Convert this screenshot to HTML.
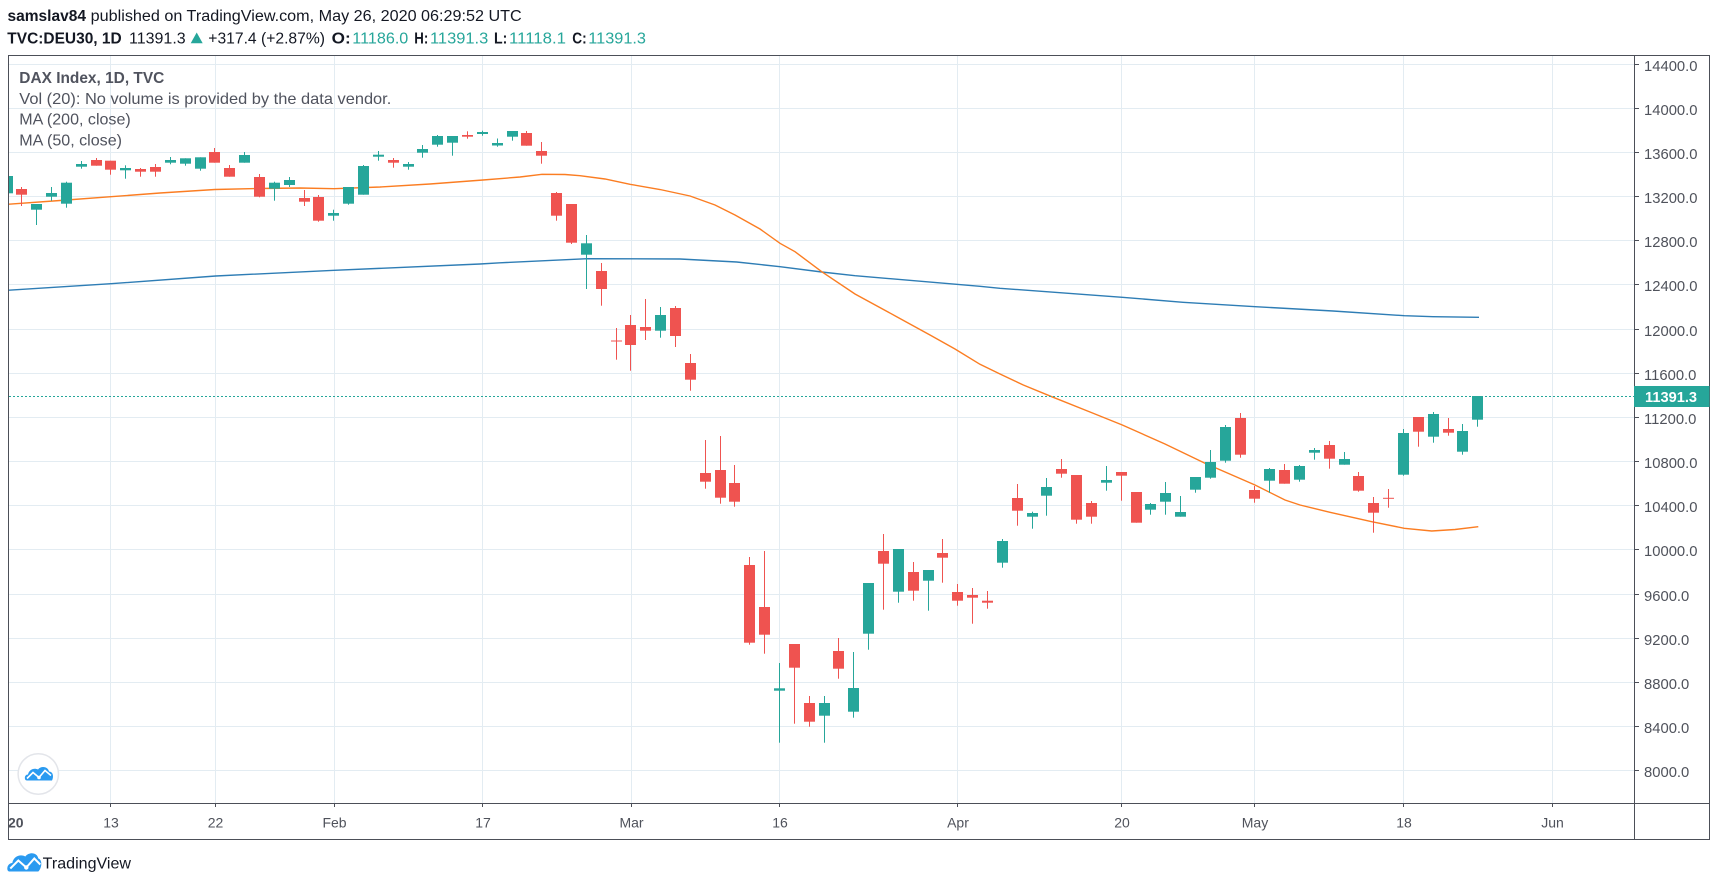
<!DOCTYPE html>
<html><head><meta charset="utf-8"><style>
html,body{margin:0;padding:0;background:#fff;}
svg{display:block;}
text{font-family:"Liberation Sans",Arial,sans-serif;}
</style></head><body>
<svg width="1718" height="886" viewBox="0 0 1718 886" xmlns="http://www.w3.org/2000/svg">
<defs>
<clipPath id="plot"><rect x="9" y="56" width="1625" height="747"/></clipPath>
<clipPath id="taxis"><rect x="9" y="804" width="1625" height="35"/></clipPath>
</defs>
<rect width="1718" height="886" fill="#fff"/>

<!-- header -->
<g font-size="15.5" fill="#131722">
<text x="7.5" y="21" font-weight="bold" textLength="78.5" lengthAdjust="spacingAndGlyphs">samslav84</text>
<text x="90.7" y="21" textLength="431" lengthAdjust="spacingAndGlyphs">published on TradingView.com, May 26, 2020 06:29:52 UTC</text>
<text x="7.3" y="43.5" font-weight="bold" textLength="114.4" lengthAdjust="spacingAndGlyphs">TVC:DEU30, 1D</text>
<text x="129" y="43.5" textLength="56.7" lengthAdjust="spacingAndGlyphs">11391.3</text>
<polygon points="190.7,43.3 202.7,43.3 196.7,32.5" fill="#26a69a"/>
<text x="208.3" y="43.5" textLength="116.7" lengthAdjust="spacingAndGlyphs">+317.4 (+2.87%)</text>
<text x="331.7" y="43.5" font-weight="bold" textLength="19" lengthAdjust="spacingAndGlyphs">O:</text>
<text x="352.3" y="43.5" fill="#26a69a" textLength="56" lengthAdjust="spacingAndGlyphs">11186.0</text>
<text x="414.3" y="43.5" font-weight="bold" textLength="14" lengthAdjust="spacingAndGlyphs">H:</text>
<text x="430" y="43.5" fill="#26a69a" textLength="58.3" lengthAdjust="spacingAndGlyphs">11391.3</text>
<text x="494" y="43.5" font-weight="bold" textLength="13.3" lengthAdjust="spacingAndGlyphs">L:</text>
<text x="509" y="43.5" fill="#26a69a" textLength="57" lengthAdjust="spacingAndGlyphs">11118.1</text>
<text x="572.3" y="43.5" font-weight="bold" textLength="14.4" lengthAdjust="spacingAndGlyphs">C:</text>
<text x="588.3" y="43.5" fill="#26a69a" textLength="57.7" lengthAdjust="spacingAndGlyphs">11391.3</text>
</g>

<!-- grid -->
<g stroke="#e3ecf2" stroke-width="1">
<line x1="9" x2="1634" y1="64.5" y2="64.5"/>
<line x1="9" x2="1634" y1="108.5" y2="108.5"/>
<line x1="9" x2="1634" y1="152.5" y2="152.5"/>
<line x1="9" x2="1634" y1="196.5" y2="196.5"/>
<line x1="9" x2="1634" y1="240.5" y2="240.5"/>
<line x1="9" x2="1634" y1="284.5" y2="284.5"/>
<line x1="9" x2="1634" y1="329.5" y2="329.5"/>
<line x1="9" x2="1634" y1="373.5" y2="373.5"/>
<line x1="9" x2="1634" y1="417.5" y2="417.5"/>
<line x1="9" x2="1634" y1="461.5" y2="461.5"/>
<line x1="9" x2="1634" y1="505.5" y2="505.5"/>
<line x1="9" x2="1634" y1="549.5" y2="549.5"/>
<line x1="9" x2="1634" y1="594.5" y2="594.5"/>
<line x1="9" x2="1634" y1="638.5" y2="638.5"/>
<line x1="9" x2="1634" y1="682.5" y2="682.5"/>
<line x1="9" x2="1634" y1="726.5" y2="726.5"/>
<line x1="9" x2="1634" y1="770.5" y2="770.5"/>
<line y1="56" y2="803" x1="110.5" x2="110.5"/>
<line y1="56" y2="803" x1="215.5" x2="215.5"/>
<line y1="56" y2="803" x1="334.5" x2="334.5"/>
<line y1="56" y2="803" x1="482.5" x2="482.5"/>
<line y1="56" y2="803" x1="631.5" x2="631.5"/>
<line y1="56" y2="803" x1="779.5" x2="779.5"/>
<line y1="56" y2="803" x1="957.5" x2="957.5"/>
<line y1="56" y2="803" x1="1121.5" x2="1121.5"/>
<line y1="56" y2="803" x1="1254.5" x2="1254.5"/>
<line y1="56" y2="803" x1="1403.5" x2="1403.5"/>
<line y1="56" y2="803" x1="1552.5" x2="1552.5"/>
</g>

<g clip-path="url(#plot)">
<!-- MA lines -->
<polyline fill="none" stroke="#2e7db5" stroke-width="1.4" points="8,290.3 111,283.7 215.7,276 334.3,270.3 480,264 500,262.8 587.3,258.7 680,259 736.7,262 780,266.7 821.7,272 855,275.7 980,286.3 1000,288.3 1122.3,297.3 1183,302.3 1255.3,306.7 1333,311 1404.3,315.7 1433,316.7 1479,317.3"/>
<polyline fill="none" stroke="#fb7d22" stroke-width="1.4" points="8,204.3 60,200.5 111,196.7 160,193 215,189.5 260,188.5 300,188 334,188.7 380,187 430,184 483,180 520,177 542,174.3 565,174.5 580,175.7 605,179 630,184.3 660,189.5 690,196 715,205 735,215 760,229 780,243.3 795,251.7 821.7,271.7 855,294 896.7,316.7 930,335 955,349 980,364.3 1000,374 1023.3,385 1051.7,396.7 1090,412 1122.3,425 1165,444 1205,463.3 1255,485 1285,500 1300,505 1330,512.3 1371.7,521.7 1404.3,528.3 1431.7,531 1455,529.5 1478.3,526.7"/>

<!-- last price line -->
<line x1="9" x2="1634" y1="396.5" y2="396.5" stroke="#26a69a" stroke-width="1" stroke-dasharray="2,2"/>

<!-- teal candles -->
<g fill="#26a69a">
<rect x="2" y="176" width="11" height="17.3"/>
<rect x="36" y="204" width="1" height="21"/><rect x="31" y="204" width="11" height="5.7"/>
<rect x="51" y="187" width="1" height="13.7"/><rect x="46" y="193" width="11" height="3.7"/>
<rect x="66" y="181.7" width="1" height="26"/><rect x="61" y="182.7" width="11" height="21"/>
<rect x="81" y="161" width="1" height="7.7"/><rect x="76" y="164" width="11" height="2.7"/>
<rect x="125" y="165.3" width="1" height="13.4"/><rect x="120" y="168" width="11" height="2.3"/>
<rect x="170" y="157" width="1" height="7.3"/><rect x="165" y="160" width="11" height="2.7"/>
<rect x="185" y="158.3" width="1" height="7.4"/><rect x="180" y="158.3" width="11" height="5.4"/>
<rect x="200" y="157.3" width="1" height="13.4"/><rect x="195" y="157.3" width="11" height="11.4"/>
<rect x="244" y="152" width="1" height="10.7"/><rect x="239" y="155" width="11" height="7.7"/>
<rect x="274" y="181.7" width="1" height="19"/><rect x="269" y="182.7" width="11" height="6"/>
<rect x="289" y="177" width="1" height="10"/><rect x="284" y="180" width="11" height="5"/>
<rect x="333" y="209.7" width="1" height="11"/><rect x="328" y="213" width="11" height="2.7"/>
<rect x="348" y="187" width="1" height="17.7"/><rect x="343" y="187" width="11" height="16.7"/>
<rect x="363" y="165" width="1" height="29.7"/><rect x="358" y="166" width="11" height="28.7"/>
<rect x="378" y="151" width="1" height="9.7"/><rect x="373" y="154.7" width="11" height="2"/>
<rect x="408" y="162" width="1" height="7.7"/><rect x="403" y="164" width="11" height="2.7"/>
<rect x="422" y="145" width="1" height="12.7"/><rect x="417" y="149" width="11" height="3.7"/>
<rect x="437" y="135" width="1" height="11.7"/><rect x="432" y="136" width="11" height="8.7"/>
<rect x="452" y="136" width="1" height="19.7"/><rect x="447" y="136" width="11" height="6.7"/>
<rect x="482" y="130.7" width="1" height="5"/><rect x="477" y="132" width="11" height="2"/>
<rect x="497" y="138.5" width="1" height="8.2"/><rect x="492" y="143" width="11" height="2.5"/>
<rect x="512" y="131" width="1" height="9.7"/><rect x="507" y="131" width="11" height="5.7"/>
<rect x="586" y="235" width="1" height="54"/><rect x="581" y="243.3" width="11" height="11.4"/>
<rect x="660" y="307" width="1" height="30.7"/><rect x="655" y="315" width="11" height="15.7"/>
<rect x="779" y="663" width="1" height="79.7"/><rect x="774" y="688.3" width="11" height="2.4"/>
<rect x="824" y="696" width="1" height="46.7"/><rect x="819" y="703" width="11" height="12.7"/>
<rect x="853" y="652" width="1" height="65.7"/><rect x="848" y="688" width="11" height="23.7"/>
<rect x="868" y="583" width="1" height="66.7"/><rect x="863" y="583" width="11" height="50.7"/>
<rect x="898" y="549" width="1" height="53.7"/><rect x="893" y="549" width="11" height="42.7"/>
<rect x="928" y="570" width="1" height="40.7"/><rect x="923" y="570" width="11" height="10.7"/>
<rect x="1002" y="539" width="1" height="28.7"/><rect x="997" y="541" width="11" height="21.7"/>
<rect x="1032" y="511.7" width="1" height="17"/><rect x="1027" y="513" width="11" height="3.7"/>
<rect x="1046" y="478" width="1" height="37.7"/><rect x="1041" y="487" width="11" height="8.7"/>
<rect x="1106" y="466" width="1" height="24.7"/><rect x="1101" y="480" width="11" height="2.7"/>
<rect x="1150" y="503" width="1" height="11.7"/><rect x="1145" y="504" width="11" height="5.7"/>
<rect x="1165" y="482" width="1" height="32.7"/><rect x="1160" y="493" width="11" height="8.7"/>
<rect x="1180" y="496" width="1" height="20.7"/><rect x="1175" y="512" width="11" height="4.7"/>
<rect x="1195" y="477" width="1" height="15.7"/><rect x="1190" y="477" width="11" height="12.7"/>
<rect x="1210" y="450" width="1" height="28.7"/><rect x="1205" y="462" width="11" height="15.7"/>
<rect x="1225" y="425" width="1" height="37.7"/><rect x="1220" y="427" width="11" height="33.7"/>
<rect x="1269" y="468" width="1" height="24.7"/><rect x="1264" y="469" width="11" height="11.7"/>
<rect x="1299" y="465" width="1" height="16.7"/><rect x="1294" y="466" width="11" height="13.7"/>
<rect x="1314" y="448" width="1" height="11.7"/><rect x="1309" y="450" width="11" height="2.7"/>
<rect x="1344" y="452" width="1" height="12.7"/><rect x="1339" y="459" width="11" height="5.7"/>
<rect x="1403" y="429" width="1" height="46.7"/><rect x="1398" y="433" width="11" height="41.7"/>
<rect x="1433" y="412" width="1" height="30.7"/><rect x="1428" y="414" width="11" height="22.7"/>
<rect x="1462" y="424" width="1" height="30.7"/><rect x="1457" y="431" width="11" height="20.7"/>
<rect x="1477" y="396" width="1" height="30.7"/><rect x="1472" y="396" width="11" height="23.7"/>
</g>

<!-- red candles -->
<g fill="#ef5350">
<rect x="21" y="187" width="1" height="19"/><rect x="16" y="189" width="11" height="5.7"/>
<rect x="96" y="158" width="1" height="7.7"/><rect x="91" y="160" width="11" height="5.7"/>
<rect x="110" y="160.7" width="1" height="14"/><rect x="105" y="160.7" width="11" height="9"/>
<rect x="140" y="168" width="1" height="8.7"/><rect x="135" y="169" width="11" height="2.7"/>
<rect x="155" y="164" width="1" height="12.7"/><rect x="150" y="167" width="11" height="4.7"/>
<rect x="214" y="148" width="1" height="14.7"/><rect x="209" y="152" width="11" height="10.7"/>
<rect x="229" y="165" width="1" height="11.7"/><rect x="224" y="168" width="11" height="8.7"/>
<rect x="259" y="174" width="1" height="23.3"/><rect x="254" y="177" width="11" height="19.7"/>
<rect x="304" y="190" width="1" height="16"/><rect x="299" y="198" width="11" height="3.7"/>
<rect x="318" y="195" width="1" height="26.7"/><rect x="313" y="197" width="11" height="23.7"/>
<rect x="393" y="158" width="1" height="9.7"/><rect x="388" y="160" width="11" height="2.7"/>
<rect x="467" y="131.3" width="1" height="7.4"/><rect x="462" y="135" width="11" height="1.7"/>
<rect x="526" y="131" width="1" height="14.7"/><rect x="521" y="133" width="11" height="12.7"/>
<rect x="541" y="142" width="1" height="21.7"/><rect x="536" y="151" width="11" height="4.7"/>
<rect x="556" y="192" width="1" height="28.7"/><rect x="551" y="193" width="11" height="22.7"/>
<rect x="571" y="204" width="1" height="40"/><rect x="566" y="204" width="11" height="38.7"/>
<rect x="601" y="263" width="1" height="42.7"/><rect x="596" y="271" width="11" height="18"/>
<rect x="616" y="328" width="1" height="31.7"/><rect x="611" y="340.5" width="11" height="1"/>
<rect x="630" y="315" width="1" height="55.7"/><rect x="625" y="325" width="11" height="20"/>
<rect x="645" y="299" width="1" height="41"/><rect x="640" y="327" width="11" height="3.7"/>
<rect x="675" y="306" width="1" height="41"/><rect x="670" y="308" width="11" height="28"/>
<rect x="690" y="354" width="1" height="36.7"/><rect x="685" y="363" width="11" height="16.7"/>
<rect x="705" y="440" width="1" height="48.7"/><rect x="700" y="473" width="11" height="8.7"/>
<rect x="720" y="436" width="1" height="67.7"/><rect x="715" y="470" width="11" height="27.7"/>
<rect x="734" y="465" width="1" height="41.7"/><rect x="729" y="483" width="11" height="18.7"/>
<rect x="749" y="557" width="1" height="87.7"/><rect x="744" y="565" width="11" height="77.7"/>
<rect x="764" y="551" width="1" height="102.7"/><rect x="759" y="607" width="11" height="27.7"/>
<rect x="794" y="644" width="1" height="79.7"/><rect x="789" y="644" width="11" height="23.7"/>
<rect x="809" y="696" width="1" height="30.7"/><rect x="804" y="703" width="11" height="18.7"/>
<rect x="838" y="638" width="1" height="40.7"/><rect x="833" y="651" width="11" height="17.7"/>
<rect x="883" y="534" width="1" height="75.7"/><rect x="878" y="551" width="11" height="12.7"/>
<rect x="913" y="562" width="1" height="38.7"/><rect x="908" y="572" width="11" height="18.7"/>
<rect x="942" y="539" width="1" height="43.7"/><rect x="937" y="553" width="11" height="4.7"/>
<rect x="957" y="584" width="1" height="21.7"/><rect x="952" y="592" width="11" height="8.7"/>
<rect x="972" y="588" width="1" height="35.7"/><rect x="967" y="595" width="11" height="2.7"/>
<rect x="987" y="591" width="1" height="17.7"/><rect x="982" y="600.7" width="11" height="2"/>
<rect x="1017" y="484" width="1" height="41.7"/><rect x="1012" y="498" width="11" height="12.7"/>
<rect x="1061" y="459" width="1" height="18.7"/><rect x="1056" y="469" width="11" height="4.7"/>
<rect x="1076" y="475" width="1" height="48.7"/><rect x="1071" y="475" width="11" height="44.7"/>
<rect x="1091" y="501" width="1" height="22.7"/><rect x="1086" y="503" width="11" height="13.7"/>
<rect x="1121" y="472" width="1" height="28.7"/><rect x="1116" y="472" width="11" height="3.7"/>
<rect x="1136" y="492" width="1" height="30.7"/><rect x="1131" y="492" width="11" height="30.7"/>
<rect x="1240" y="413" width="1" height="44.7"/><rect x="1235" y="418" width="11" height="36.7"/>
<rect x="1254" y="486" width="1" height="16.7"/><rect x="1249" y="490" width="11" height="8.7"/>
<rect x="1284" y="464" width="1" height="19.7"/><rect x="1279" y="470" width="11" height="13.7"/>
<rect x="1329" y="441" width="1" height="27.7"/><rect x="1324" y="445" width="11" height="13.7"/>
<rect x="1358" y="472" width="1" height="19.7"/><rect x="1353" y="476" width="11" height="14.7"/>
<rect x="1373" y="497" width="1" height="35.7"/><rect x="1368" y="503" width="11" height="9.7"/>
<rect x="1388" y="489" width="1" height="18.7"/><rect x="1383" y="497.8" width="11" height="1"/>
<rect x="1418" y="417" width="1" height="29.7"/><rect x="1413" y="417" width="11" height="14.7"/>
<rect x="1448" y="418" width="1" height="17.7"/><rect x="1443" y="429" width="11" height="3.7"/>
</g>
</g>

<!-- legend -->
<g font-size="16" fill="#50535e">
<text x="19.3" y="83" font-weight="bold" textLength="145" lengthAdjust="spacingAndGlyphs">DAX Index, 1D, TVC</text>
<text x="19.3" y="104" textLength="372" lengthAdjust="spacingAndGlyphs">Vol (20): No volume is provided by the data vendor.</text>
<text x="19.3" y="124.3" textLength="111.4" lengthAdjust="spacingAndGlyphs">MA (200, close)</text>
<text x="19.3" y="145.5" textLength="102.7" lengthAdjust="spacingAndGlyphs">MA (50, close)</text>
</g>

<!-- chart watermark icon -->
<circle cx="38.3" cy="774" r="20.2" fill="#fff" stroke="#e3e5ea" stroke-width="1.5"/>
<g transform="translate(25,766.5)">
<path d="M2,14 C-1,14 -1,8 3,8 C4,3 9,1 13,3 C16,-1 23,0 24,5 C28,5 29,10 27,14 Z" fill="#2a9af0"/>
<polyline points="2,12 8,6 14,11 20,4 26,9" fill="none" stroke="#fff" stroke-width="1.6"/>
<circle cx="14" cy="11" r="1.8" fill="#fff"/>
</g>

<!-- frame -->
<g stroke="#4c4f58" stroke-width="1" fill="none">
<line x1="8" x2="1710" y1="55.5" y2="55.5"/>
<line x1="8.5" x2="8.5" y1="55" y2="840"/>
<line x1="1709.5" x2="1709.5" y1="55" y2="840"/>
<line x1="1634.5" x2="1634.5" y1="55" y2="840"/>
<line x1="8" x2="1710" y1="803.5" y2="803.5"/>
<line x1="8" x2="1710" y1="839.5" y2="839.5"/>
</g>

<!-- price axis ticks & labels -->
<g stroke="#4c4f58" stroke-width="1">
<line x1="1635" x2="1639" y1="64.5" y2="64.5"/>
<line x1="1635" x2="1639" y1="108.5" y2="108.5"/>
<line x1="1635" x2="1639" y1="152.5" y2="152.5"/>
<line x1="1635" x2="1639" y1="196.5" y2="196.5"/>
<line x1="1635" x2="1639" y1="240.5" y2="240.5"/>
<line x1="1635" x2="1639" y1="284.5" y2="284.5"/>
<line x1="1635" x2="1639" y1="329.5" y2="329.5"/>
<line x1="1635" x2="1639" y1="373.5" y2="373.5"/>
<line x1="1635" x2="1639" y1="417.5" y2="417.5"/>
<line x1="1635" x2="1639" y1="461.5" y2="461.5"/>
<line x1="1635" x2="1639" y1="505.5" y2="505.5"/>
<line x1="1635" x2="1639" y1="549.5" y2="549.5"/>
<line x1="1635" x2="1639" y1="594.5" y2="594.5"/>
<line x1="1635" x2="1639" y1="638.5" y2="638.5"/>
<line x1="1635" x2="1639" y1="682.5" y2="682.5"/>
<line x1="1635" x2="1639" y1="726.5" y2="726.5"/>
<line x1="1635" x2="1639" y1="770.5" y2="770.5"/>
</g>
<g font-size="14.8" fill="#4f525b">
<text x="1644" y="71">14400.0</text>
<text x="1644" y="115">14000.0</text>
<text x="1644" y="159">13600.0</text>
<text x="1644" y="203">13200.0</text>
<text x="1644" y="247">12800.0</text>
<text x="1644" y="291">12400.0</text>
<text x="1644" y="336">12000.0</text>
<text x="1644" y="380">11600.0</text>
<text x="1644" y="424">11200.0</text>
<text x="1644" y="468">10800.0</text>
<text x="1644" y="512">10400.0</text>
<text x="1644" y="556">10000.0</text>
<text x="1644" y="601">9600.0</text>
<text x="1644" y="645">9200.0</text>
<text x="1644" y="689">8800.0</text>
<text x="1644" y="733">8400.0</text>
<text x="1644" y="777">8000.0</text>
</g>
<rect x="1634" y="386" width="75.5" height="21" fill="#26a69a"/>
<text x="1645" y="402" font-size="14.8" font-weight="bold" fill="#fff" textLength="52" lengthAdjust="spacingAndGlyphs">11391.3</text>

<!-- time axis -->
<g stroke="#4c4f58" stroke-width="1">
<line x1="110.5" x2="110.5" y1="804" y2="807"/>
<line x1="215.5" x2="215.5" y1="804" y2="807"/>
<line x1="334.5" x2="334.5" y1="804" y2="807"/>
<line x1="482.5" x2="482.5" y1="804" y2="807"/>
<line x1="631.5" x2="631.5" y1="804" y2="807"/>
<line x1="779.5" x2="779.5" y1="804" y2="807"/>
<line x1="957.5" x2="957.5" y1="804" y2="807"/>
<line x1="1121.5" x2="1121.5" y1="804" y2="807"/>
<line x1="1254.5" x2="1254.5" y1="804" y2="807"/>
<line x1="1403.5" x2="1403.5" y1="804" y2="807"/>
<line x1="1552.5" x2="1552.5" y1="804" y2="807"/>
</g>
<g font-size="14" fill="#4f525b" text-anchor="middle">
<text x="8" y="827.5" font-weight="bold" clip-path="url(#taxis)">2020</text>
<text x="111" y="827.5">13</text>
<text x="215.5" y="827.5">22</text>
<text x="334.5" y="827.5">Feb</text>
<text x="483" y="827.5">17</text>
<text x="631.5" y="827.5">Mar</text>
<text x="780" y="827.5">16</text>
<text x="958" y="827.5">Apr</text>
<text x="1122" y="827.5">20</text>
<text x="1255" y="827.5">May</text>
<text x="1404" y="827.5">18</text>
<text x="1552.5" y="827.5">Jun</text>
</g>

<!-- footer logo -->
<g transform="translate(8.3,852.5)">
<path d="M1,19 C-2,19 -2,11 4,10.5 C5,4 12,1 17,4 C21,-1 29,0 30,6 C34,7 34,15 30,19 Z" fill="#2a9af0"/>
<polyline points="2,16 10,8 18,15 26,6 32,12" fill="none" stroke="#fff" stroke-width="2"/>
<circle cx="18" cy="15" r="2.2" fill="#fff"/>
</g>
<text x="42.7" y="868.3" font-size="16" fill="#131722" textLength="88.3" lengthAdjust="spacingAndGlyphs">TradingView</text>
</svg>
</body></html>
